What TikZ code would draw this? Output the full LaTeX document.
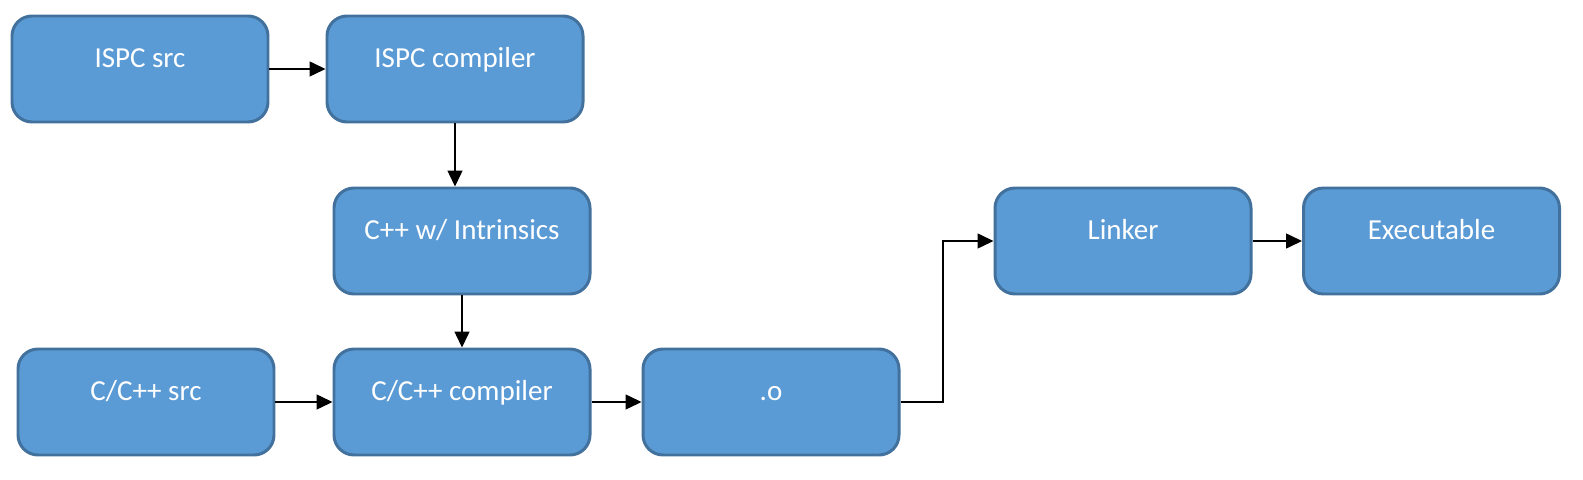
\documentclass[tikz,border=0pt]{standalone}
\usepackage{fontspec}
\setmainfont{Carlito}
\usetikzlibrary{arrows.meta}

\definecolor{boxfill}{HTML}{5B9BD5}
\definecolor{boxline}{HTML}{41719C}

\begin{document}
\begin{tikzpicture}[
    stage/.style={draw=boxline, line width=1.7pt, fill=boxfill, rounded corners=0.4cm,
      minimum width=5.12cm, minimum height=2.12cm, text=white,
      text height=0.45cm, text depth=0.5cm,
      font=\fontsize{16.5}{19}\selectfont},
    flow/.style={line width=0.85pt, -{Triangle[length=0.32cm, width=0.30cm]}}
  ]
  \useasboundingbox (0,0) rectangle (31.66,9.58);
  \node[stage] (ispcsrc) at (2.80, 8.20) {ISPC src};
  \node[stage] (ispccomp) at (9.10, 8.20) {ISPC compiler};
  \node[stage] (intrin) at (9.24, 4.76) {C++ w/ Intrinsics};
  \node[stage] (linker) at (22.46, 4.76) {Linker};
  \node[stage] (exe) at (28.63, 4.76) {Executable};
  \node[stage] (ccsrc) at (2.92, 1.54) {C/C++ src};
  \node[stage] (cccomp) at (9.24, 1.54) {C/C++ compiler};
  \node[stage] (obj) at (15.42, 1.54) {.o};
  \coordinate (elbow) at (18.86, 3.00);
  \draw[flow] (ispcsrc) -- (ispccomp);
  \draw[flow] (ispccomp.south) -- (ispccomp.south |- intrin.north);
  \draw[flow] (intrin) -- (cccomp);
  \draw[flow] (ccsrc) -- (cccomp);
  \draw[flow] (cccomp) -- (obj);
  \draw[flow] (obj.east) -| (elbow) |- (linker.west);
  \draw[flow] (linker) -- (exe);
\end{tikzpicture}
\end{document}
